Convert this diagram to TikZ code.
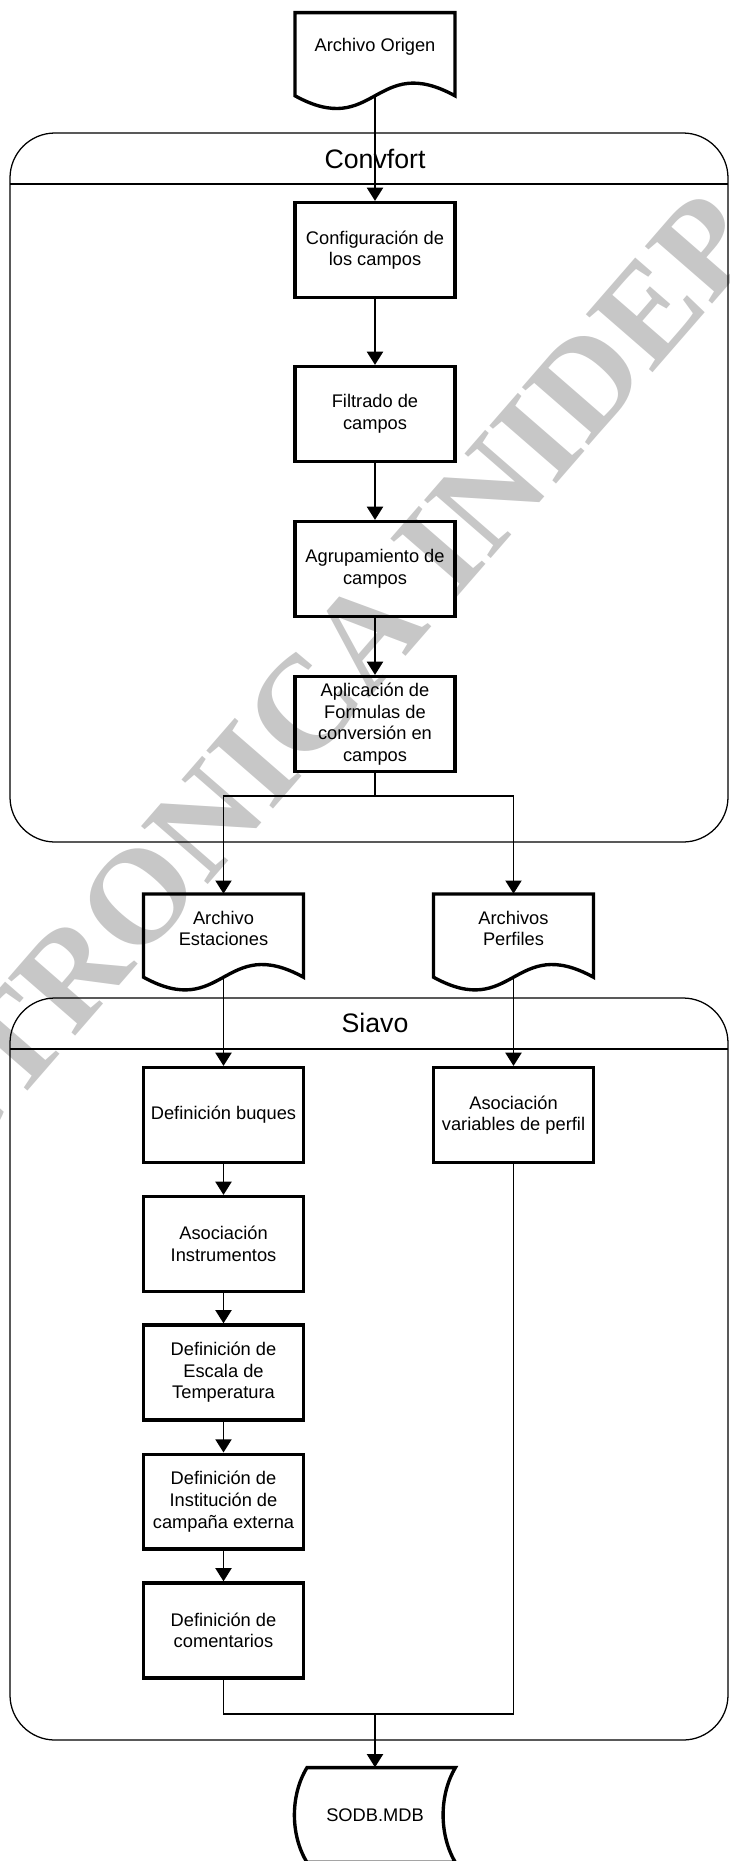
\documentclass[tikz,border=0pt]{standalone}
\usepackage{fontspec}
\setmainfont{Liberation Sans}
\newfontfamily\wmfont{Liberation Serif}
\usetikzlibrary{arrows.meta,calc}

\newcommand{\boxfont}{\fontsize{13}{15.4}\selectfont}
% document symbol with wavy bottom, drawn round a named node
\newcommand{\docoutline}[1]{%
  \draw[docline] ($(#1)+(-2.0,-1.22)$) -- ($(#1)+(-2.0,0.86)$) -- ($(#1)+(2.0,0.86)$) -- ($(#1)+(2.0,-1.22)$)
    .. controls ($(#1)+(0,-0.12)$) and ($(#1)+(0,-2.32)$) .. cycle;}

\begin{document}
\begin{tikzpicture}[
    box/.style={draw, line width=2.4pt, minimum width=4.0cm, minimum height=2.37cm, align=center, font=\boxfont},
    docnode/.style={minimum width=4.0cm, minimum height=1.72cm, align=center, font=\boxfont},
    docline/.style={line width=2.4pt, line join=miter},
    lane/.style={line width=0.9pt},
    flow/.style={line width=1.4pt, -{Triangle[length=0.33cm, width=0.4cm]}},
    link/.style={line width=1.4pt},
    lanetitle/.style={font=\fontsize{19}{22}\selectfont}
  ]
    \clip (0,0) rectangle (18.25,-46.525);

    % --- watermark ---
    \node[rotate=49, anchor=base east, text=black!22, font=\wmfont\bfseries\fontsize{96}{96}\selectfont] (wm) at (19.2,-6.0) {ELECTRONICA INIDEP};

    % --- source file ---
    \node[docnode] (orig) at (9.375,-1.175) {Archivo Origen};
    \docoutline{orig}

    % --- Convfort lane ---
    \draw[lane, rounded corners=1.125cm] (0.25,-3.325) rectangle (18.2,-21.05);
    \draw[lane] (0.25,-4.6) -- (18.2,-4.6);
    \node[lanetitle] (convt) at (9.375,-3.98) {Convfort};

    \node[box] (conf) at (9.375,-6.25) {Configuración de\\los campos};
    \node[box] (filt) at (9.375,-10.35) {Filtrado de\\campos};
    \node[box] (agru) at (9.375,-14.225) {Agrupamiento de\\campos};
    \node[box] (apl) at (9.375,-18.1) {Aplicación de\\Formulas de\\conversión en\\campos};

    % --- intermediate files ---
    \node[docnode] (estac) at (5.5875,-23.21) {Archivo\\Estaciones};
    \docoutline{estac}
    \node[docnode] (perf) at (12.8375,-23.21) {Archivos\\Perfiles};
    \docoutline{perf}

    % --- Siavo lane ---
    \draw[lane, rounded corners=1.125cm] (0.25,-24.95) rectangle (18.2,-43.5);
    \draw[lane] (0.25,-26.225) -- (18.2,-26.225);
    \node[lanetitle] (siavot) at (9.375,-25.575) {Siavo};

    \node[box] (buques) at (5.5875,-27.875) {Definición buques};
    \node[box] (asocvar) at (12.8375,-27.875) {Asociación\\variables de perfil};
    \node[box] (instr) at (5.5875,-31.1) {Asociación\\Instrumentos};
    \node[box] (escala) at (5.5875,-34.31) {Definición de\\Escala de\\Temperatura};
    \node[box] (instit) at (5.5875,-37.54) {Definición de\\Institución de\\campaña externa};
    \node[box] (coment) at (5.5875,-40.76) {Definición de\\comentarios};

    % --- output database ---
    \node[docnode, minimum height=2.37cm] (sodb) at (9.375,-45.375) {SODB.MDB};
    \draw[docline] ($(sodb)+(-1.7,1.185)$) -- ($(sodb)+(2.01,1.185)$)
      .. controls ($(sodb)+(1.6,0.5)$) and ($(sodb)+(1.6,-0.5)$) .. ($(sodb)+(2.01,-1.185)$)
      -- ($(sodb)+(-1.7,-1.185)$)
      .. controls ($(sodb)+(-2.12,-0.5)$) and ($(sodb)+(-2.12,0.5)$) .. cycle;

    % --- connectors ---
    \coordinate (orig-out) at ($(orig)+(0,-1.22)$);
    \coordinate (estac-out) at ($(estac)+(0,-1.22)$);
    \coordinate (perf-out) at ($(perf)+(0,-1.22)$);
    \coordinate (split) at (9.375,-19.9);
    \coordinate (merge) at (9.375,-42.85);

    \draw[flow] (orig-out) -- (conf.north);
    \draw[flow] (conf) -- (filt);
    \draw[flow] (filt) -- (agru);
    \draw[flow] (agru) -- (apl);
    \draw[link] (apl.south) -- (split);
    \draw[flow] (split) -| (estac.north);
    \draw[flow] (split) -| (perf.north);
    \draw[flow] (estac-out) -- (buques.north);
    \draw[flow] (perf-out) -- (asocvar.north);
    \draw[flow] (buques) -- (instr);
    \draw[flow] (instr) -- (escala);
    \draw[flow] (escala) -- (instit);
    \draw[flow] (instit) -- (coment);
    \draw[link] (coment.south) |- (merge);
    \draw[link] (asocvar.south) |- (merge);
    \draw[flow] (merge) -- (sodb.north);
  \end{tikzpicture}
\end{document}
